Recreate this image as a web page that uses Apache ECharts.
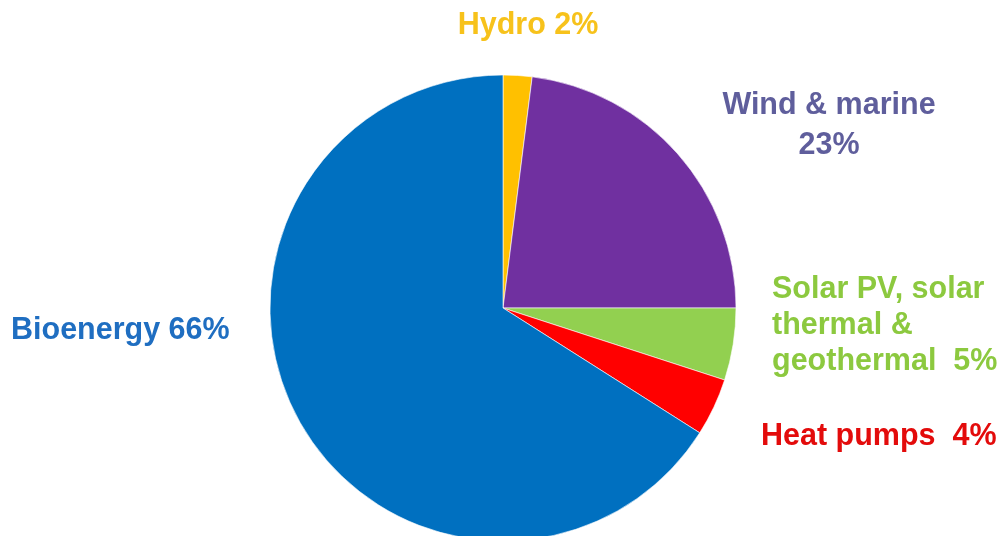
<!DOCTYPE html>
<html>
<head>
<meta charset="utf-8">
<script src="https://cdn.jsdelivr.net/npm/echarts@6/dist/echarts.min.js"></script>
<style>html,body{margin:0;padding:0;background:#fff}#c{width:999px;height:536px}</style>
</head>
<body>
<div id="c"></div>
<script>
const categories = ['Hydro', 'Wind & marine', 'Solar PV, solar thermal & geothermal', 'Heat pumps', 'Bioenergy'];
const values = [2, 23, 5, 4, 66];
const labelTexts = ['Hydro 2%', 'Wind & marine\n23%', 'Solar PV, solar\nthermal &\ngeothermal  5%', 'Heat pumps  4%', 'Bioenergy 66%'];

const sliceColors = ['#FFC000', '#7030A0', '#92D050', '#FF0000', '#0070C0'];
const labelColors = ['#F7C21B', '#5F5E9C', '#8CC93F', '#E30B0B', '#1F6EC1'];
const labelPos = [
  {x: 528, y: 26, align: 'center', lh: 37},
  {x: 829, y: 126, align: 'center', lh: 40},
  {x: 772, y: 326, align: 'left', lh: 36},
  {x: 761, y: 437, align: 'left', lh: 37},
  {x: 11, y: 331, align: 'left', lh: 37}
];

const chart = echarts.init(document.getElementById('c'));
chart.setOption({
  animation: false,
  series: [{
    type: 'pie',
    center: [503, 308],
    radius: 233,
    startAngle: 90,
    clockwise: true,
    avoidLabelOverlap: false,
    itemStyle: {borderColor: '#ffffff', borderWidth: 0.6},
    labelLine: {show: false},
    label: {
      show: true,
      formatter: p => labelTexts[p.dataIndex],
      fontFamily: 'Liberation Sans, Arial, sans-serif',
      fontWeight: 'bold',
      fontSize: 30.5
    },
    labelLayout: p => ({
      x: labelPos[p.dataIndex].x,
      y: labelPos[p.dataIndex].y,
      align: labelPos[p.dataIndex].align,
      verticalAlign: 'middle'
    }),
    data: categories.map((c, i) => ({
      name: c,
      value: values[i],
      itemStyle: {color: sliceColors[i]},
      label: {color: labelColors[i], align: labelPos[i].align, lineHeight: labelPos[i].lh}
    }))
  }]
});
</script>
</body>
</html>
